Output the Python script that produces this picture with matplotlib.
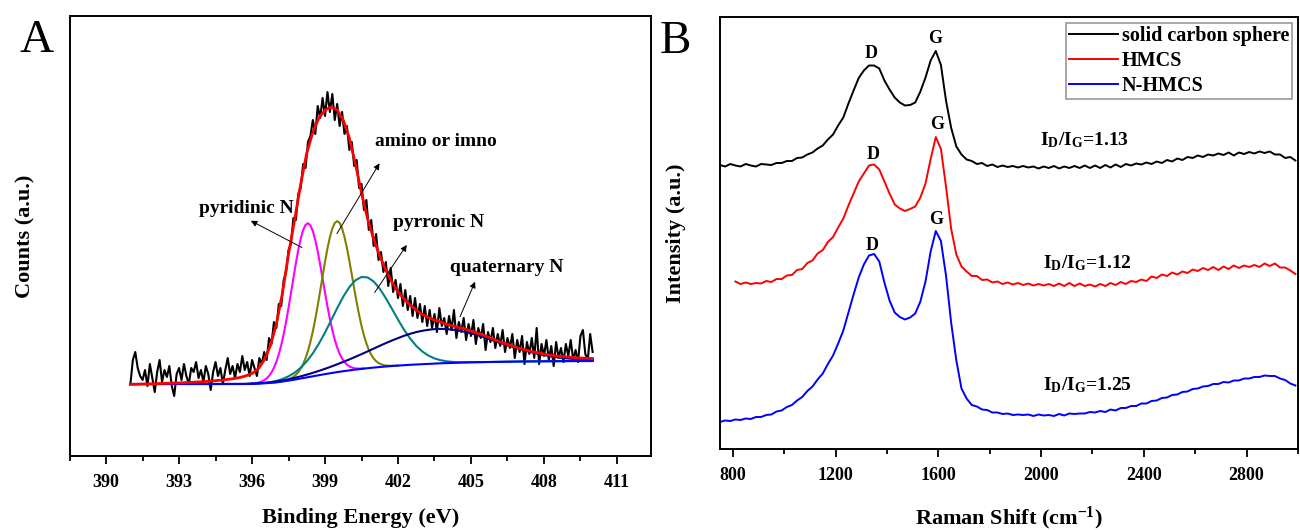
import numpy as np
import matplotlib
matplotlib.use("Agg")
import matplotlib.pyplot as plt
from matplotlib.ticker import MultipleLocator

plt.rcParams['font.family'] = 'Liberation Serif'
plt.rcParams['font.weight'] = 'bold'
plt.rcParams['axes.labelweight'] = 'bold'
plt.rcParams['mathtext.fontset'] = 'custom'
plt.rcParams['mathtext.rm'] = 'Liberation Serif:bold'
plt.rcParams['mathtext.it'] = 'Liberation Serif:bold'
plt.rcParams['mathtext.bf'] = 'Liberation Serif:bold'

# ---------------- Panel A : N 1s XPS (arbitrary counts) ----------------
# raw spectrum, 391.0 ... 410.0 eV every 0.1 eV
xps_start, xps_step = 391.0, 0.1
xps_raw = [72, 96, 104, 88, 80, 76, 86, 70, 92, 78,
           64, 84, 96, 74, 86, 79, 90, 70, 60, 82,
           88, 76, 92, 80, 72, 88, 84, 94, 78, 86,
           74, 90, 82, 66, 84, 94, 80, 88, 72, 86,
           98, 82, 90, 78, 92, 84, 100, 86, 94, 80,
           96,
           88, 80, 98, 92, 104, 96, 118, 112, 134,
           128, 152, 150, 176, 184, 206, 212, 238, 236, 262,
           268, 292, 288, 314, 320, 336, 322, 350, 338, 358,
           340, 364, 344, 362, 336, 352, 330, 344, 322, 330,
           306, 314, 290, 296, 268, 272, 246, 256, 226, 236,
           210, 222, 196, 204, 184, 194, 170, 188, 164, 176,
           158, 172, 150, 166, 146, 160, 140, 158, 138, 152,
           134,
           150, 130, 146, 128, 142, 124, 148, 130, 138, 122,
           140, 126, 146, 118, 134, 124, 138, 116, 132, 120,
           136, 112, 128, 118, 132, 106, 124, 114, 128, 108,
           122, 110, 126, 104, 118, 108, 122, 98, 116, 104,
           120, 92, 114, 102, 118, 98, 128, 92, 112, 100,
           116, 96, 110, 90, 114, 98, 108, 94, 112, 100,
           116, 96, 106, 94, 120, 126, 102, 96, 122, 104]

# fitted background and broad components, 391.0 ... 410.0 eV every 0.25 eV
fit_start, fit_step = 391.0, 0.25
fit_background = [72.0] * 20 + [
    72.2, 72.4, 72.7, 73.1, 73.7, 74.5, 75.4, 76.4, 77.5, 78.6,
    79.7, 80.8, 81.9, 82.9, 83.9, 84.8, 85.6, 86.4, 87.1, 87.8,
    88.4, 89.0, 89.5, 90.0, 90.4, 90.8, 91.2, 91.5, 91.8, 92.1,
    92.4, 92.7, 92.9, 93.1, 93.3, 93.5, 93.7,
    93.8, 93.9, 94.0, 94.1, 94.2, 94.3, 94.4, 94.5, 94.55, 94.6,
    94.65, 94.7, 94.75, 94.8, 94.85, 94.9, 94.92, 94.95, 94.97, 95.0]
# height above background
pyrronic_n = [0.0] * 19 + [
    0.05, 0.1, 0.2, 0.4, 0.8, 1.4, 2.5, 4.3, 6.9, 10.8,
    16.1, 23.0, 31.6, 41.6, 52.7, 63.9, 74.5, 83.3, 89.3, 91.9,
    90.8, 86.1, 78.3, 68.3, 57.2, 46.0, 35.4, 26.2, 18.6, 12.7,
    8.3, 5.2, 3.1, 1.8, 1.0, 0.5, 0.3, 0.1, 0.06, 0.03] + [0.0] * 18
quaternary_n = [0.0] * 15 + [
    0.03, 0.05, 0.07, 0.1, 0.15, 0.21, 0.29, 0.40, 0.54, 0.73,
    0.98, 1.29, 1.68, 2.16, 2.75, 3.46, 4.31, 5.31, 6.48, 7.81,
    9.31, 10.97, 12.8, 14.75, 16.8, 19.0, 21.2, 23.4, 25.5, 27.5,
    29.4, 31.0, 32.4, 33.4, 34.1, 34.5, 34.4, 34.0, 33.2, 32.1,
    30.7, 29.0, 27.1, 25.1, 22.9, 20.7, 18.5, 16.4, 14.4, 12.4,
    10.6, 9.0, 7.5, 6.2, 5.1, 4.1, 3.3, 2.6, 2.05, 1.6,
    1.2, 0.92]
fit_envelope = [
    71.5, 71.7, 71.9, 72.1, 72.3, 72.5, 72.7, 72.9, 73.1, 73.4,
    73.7, 74.0, 74.4, 74.8, 75.3, 75.9, 76.6, 77.4, 78.5, 80.2,
    82.5, 87, 96, 110, 132, 163, 202, 236, 272, 303,
    324, 338, 346, 349, 346, 336, 318, 292, 263, 237,
    217, 200, 186, 174, 164, 157, 151, 146, 141.5, 138.5,
    136, 134, 132, 130, 128.5, 127, 125,
    123, 121, 118.5, 116, 113.7, 111.5, 109.5, 107.5, 106, 104.5,
    103.2, 102, 101, 100, 99.5, 99, 98.5, 98, 97.7, 97.5]

# narrow components (absolute counts) every 0.1 eV
pyridinic_start = 396.0
pyridinic_n = [
    72.5, 72.7, 73.1, 73.7, 74.6, 75.8, 77.6, 80.1, 83.6, 88.2,
    94.2, 101.7, 110.9, 121.8, 134.3, 148.2, 162.9, 177.9, 192.5, 206.0,
    217.3, 225.9, 231.2, 232.8, 230.6, 224.8, 215.8, 204.5, 191.4, 177.4,
    163.2, 149.5, 137.0, 125.8, 116.3, 108.5, 102.3, 97.4, 93.9, 91.4,
    89.6, 88.5, 87.8, 87.5, 87.4, 87.45, 87.6]
amino_start = 396.9
amino_imino = [
    73.5, 73.8, 74.1, 74.5, 75.1, 75.7, 76.6, 77.6, 79.1, 81.1,
    83.8, 87.3, 91.9, 97.8, 105.2, 114.2, 124.8, 137.0, 150.6, 165.0,
    179.8, 194.2, 207.5, 218.8, 227.5, 233.0, 234.9, 233.1, 227.6, 219.1,
    208.0, 195.2, 181.4, 167.3, 153.8, 141.2, 130.1, 120.5, 112.6, 106.2,
    101.2, 97.5, 94.8, 92.9, 91.8, 91.0, 90.5, 90.3, 90.25, 90.3,
    90.3, 90.45]

peak_labels = ["pyridinic N", "amino or imno", "pyrronic N", "quaternary N"]
label_pos = [(393.8, 242.7), (401.06, 310.3), (401.8, 229.3), (404.14, 184.3)]
arrow_tail = [(398.05, 208.5), (399.49, 222.4), (401.04, 163.5), (404.55, 139.3)]
arrow_head = [(395.95, 235.2), (401.24, 292.7), (402.36, 211.0), (405.17, 174.3)]

# ---------------- Panel B : Raman spectra (offset, arbitrary) ----------------
raman_step = 20
solid_start = 750
solid_sphere = [
    284, 282.5, 285, 283.5, 282.5, 285, 283.5, 282.5, 285, 284.5,
    284, 286, 286, 288, 288, 291, 291.5, 294.5, 296.5, 300.5,
    303.5, 309.5, 314.5, 323.5, 331.5, 345.5, 358.5, 371, 378.5, 383.5,
    383.5, 380.5, 368.5, 359.5, 351.5, 346.5, 343.5, 344, 346.5, 357.5,
    371.5, 388.5, 398, 384, 348, 321, 302.5, 294.5, 289.5, 288,
    285, 286, 283, 284.5, 282, 283.5, 282, 283, 281.5, 283,
    281.5, 282.5, 280.5, 282.5, 281, 283, 280.5, 282.5, 281, 283,
    281, 283.5, 281, 283.5, 281, 284, 281.5, 284.5, 282, 285,
    283.5, 285.5, 284.5, 286.5, 285, 287.5, 286, 289, 287.5, 290.5,
    289, 292, 291, 293.5, 292, 294.5, 293.5, 295.5, 294, 296.5,
    293.5, 296.5, 295, 297, 295.5, 297.5, 296, 297.5, 294.5, 294.5,
    291, 292, 288.5]
hmcs_start = 810
hmcs = [
    167.5, 165, 166.5, 165, 166, 165.5, 168, 167, 170, 170,
    173.5, 174, 179, 180, 186, 188.5, 195.5, 199, 207, 212,
    221.5, 230.5, 243.5, 255.5, 267.5, 275.5, 283.5, 284.5, 279.5, 267.5,
    255.5, 244.5, 240.5, 238, 240, 242.5, 251.5, 265.5, 290, 312,
    300, 262, 220, 194.5, 182.5, 177.5, 173, 173, 169, 169.5,
    166.5, 167.5, 165, 166.5, 164.5, 166, 164, 165.5, 163.5, 165,
    163.5, 165, 163, 165.5, 163, 166, 163, 165.5, 163, 164.5,
    162.5, 165, 163, 166, 164, 167, 165, 168, 167, 169.5,
    168, 172.5, 171, 174.5, 173, 176.5, 174.5, 177.5, 176, 179.5,
    178, 181, 179, 182, 179, 182.5, 180, 183.5, 181, 183.5,
    182, 184, 182, 185.5, 183, 185.5, 181.5, 181.5, 178.5, 175]
nhmcs_start = 750
nhmcs = [
    27, 28.5, 28, 29.5, 29, 30.5, 30, 32, 32, 34,
    34.5, 37.5, 38.5, 42, 44, 48.5, 52, 58, 62.5, 69.5,
    75.5, 85, 93.5, 105.5, 118.5, 136.5, 154.5, 171.5, 184.5, 193.5,
    195, 187.5, 166.5, 148.5, 136.5, 132, 129.5, 131.5, 135.5, 147.5,
    167.5, 197.5, 218, 208, 173, 126, 88.5, 60.5, 50.5, 44,
    42.5, 39.5, 39, 36.5, 36.5, 35, 35.5, 34, 34.5, 34,
    34.5, 33, 34.5, 33.5, 34, 33, 35, 33.5, 35.5, 35,
    35.5, 35.5, 37, 36.5, 38, 37, 39.5, 38.5, 41, 41,
    43, 43, 45.5, 45.5, 48, 48.5, 51, 51.5, 54, 54.5,
    57, 57.5, 60, 60.5, 62.5, 63, 65, 65, 67, 66.5,
    68.5, 68.5, 70.5, 70.5, 72, 72, 73.5, 73, 73, 70.5,
    69, 65.5, 63.5]

band_labels = ["D", "G", "D", "G", "D", "G"]
band_pos = [(1340, 391), (1587, 406), (1348, 290), (1594, 320), (1344, 199), (1590, 225)]
ratio_labels = [r"I$_{\rm D}$/I$_{\rm G}$=1.13", r"I$_{\rm D}$/I$_{\rm G}$=1.12", r"I$_{\rm D}$/I$_{\rm G}$=1.25"]
ratio_pos = [(1996, 304), (2008, 181), (2008, 59)]


def style_axis(ax):
    for s in ax.spines.values():
        s.set_linewidth(1.4)
    ax.tick_params(axis='x', which='major', direction='out', length=6, width=1.3,
                   labelsize=13, pad=7, top=False)
    ax.tick_params(axis='x', which='minor', direction='out', length=3.5, width=1.3, top=False)
    ax.tick_params(axis='y', which='both', left=False, right=False, labelleft=False)
    for lab in ax.get_xticklabels():
        lab.set_fontweight('bold')


fig = plt.figure(figsize=(13, 5.3), dpi=100)

# ---- Panel A ----
axA = fig.add_axes([69.6 / 1300, 74 / 530, 581.4 / 1300, 440 / 530])
e_raw = xps_start + xps_step * np.arange(len(xps_raw))
e_fit = fit_start + fit_step * np.arange(len(fit_background))
bg = np.array(fit_background)

axA.plot(e_raw, xps_raw, color='black', lw=1.5)
axA.plot(pyridinic_start + 0.1 * np.arange(len(pyridinic_n)), pyridinic_n, color='#ff00ff', lw=1.5)
axA.plot(amino_start + 0.1 * np.arange(len(amino_imino)), amino_imino, color='#808000', lw=1.5)
axA.plot(e_fit, bg + np.array(pyrronic_n), color='#008080', lw=1.5)
axA.plot(e_fit, bg + np.array(quaternary_n), color='#000080', lw=1.5)
axA.plot(e_fit, bg, color='#0000ff', lw=1.5)
axA.plot(e_fit, fit_envelope, color='#ff0000', lw=2)

for lab, pos, tail, head in zip(peak_labels, label_pos, arrow_tail, arrow_head):
    axA.text(pos[0], pos[1], lab, fontsize=14, fontweight='bold', ha='left', va='baseline')
    axA.annotate('', xy=head, xytext=tail,
                 arrowprops=dict(arrowstyle='-|>', color='black', lw=0.7,
                                 mutation_scale=9, shrinkA=0, shrinkB=0))

axA.set_xlim(388.5, 412.4)
axA.set_ylim(0, 440)
axA.xaxis.set_major_locator(MultipleLocator(3))
axA.xaxis.set_minor_locator(MultipleLocator(1.5))
style_axis(axA)
axA.set_xlabel("Binding Energy (eV)", fontsize=16, fontweight='bold')
axA.set_ylabel("Counts (a.u.)", fontsize=16, fontweight='bold')
axA.xaxis.set_label_coords(0.5, -0.118)
axA.yaxis.set_label_coords(-0.058, 0.5)

# ---- Panel B ----
axB = fig.add_axes([720 / 1300, 81 / 530, 578 / 1300, 432 / 530])
axB.plot(solid_start + raman_step * np.arange(len(solid_sphere)), solid_sphere,
         color='black', lw=1.4, label='solid carbon sphere')
axB.plot(hmcs_start + raman_step * np.arange(len(hmcs)), hmcs,
         color='#ff0000', lw=1.4, label='HMCS')
axB.plot(nhmcs_start + raman_step * np.arange(len(nhmcs)), nhmcs,
         color='#0000ff', lw=1.4, label='N-HMCS')

for lab, pos in zip(band_labels, band_pos):
    axB.text(pos[0], pos[1], lab, fontsize=13, fontweight='bold', ha='center', va='baseline')
for lab, pos in zip(ratio_labels, ratio_pos):
    axB.text(pos[0], pos[1], lab, fontsize=14, fontweight='bold', ha='left', va='baseline')

axB.set_xlim(750, 3000)
axB.set_ylim(0, 432)
axB.xaxis.set_major_locator(MultipleLocator(400))
axB.xaxis.set_minor_locator(MultipleLocator(200))
style_axis(axB)
axB.set_xlabel(r"Raman Shift (cm$^{-1}$)", fontsize=16, fontweight='bold')
axB.set_ylabel("Intensity (a.u.)", fontsize=16, fontweight='bold')
axB.xaxis.set_label_coords(0.5, -0.13)
axB.yaxis.set_label_coords(-0.059, 0.5)

leg = axB.legend(loc='upper right', bbox_to_anchor=(0.99, 0.986), borderaxespad=0,
                 handlelength=2.4, handletextpad=0.2, borderpad=0.15,
                 labelspacing=0.25, frameon=True, fancybox=False,
                 prop={'weight': 'bold', 'size': 14.5})
leg.get_frame().set_edgecolor('#808080')
leg.get_frame().set_linewidth(1.2)

# panel letters
fig.text(19 / 1300, 1 - 52 / 530, "A", fontsize=34, fontweight='normal', va='baseline')
fig.text(660 / 1300, 1 - 53 / 530, "B", fontsize=34, fontweight='normal', va='baseline')

fig.savefig("out.png", dpi=100)
